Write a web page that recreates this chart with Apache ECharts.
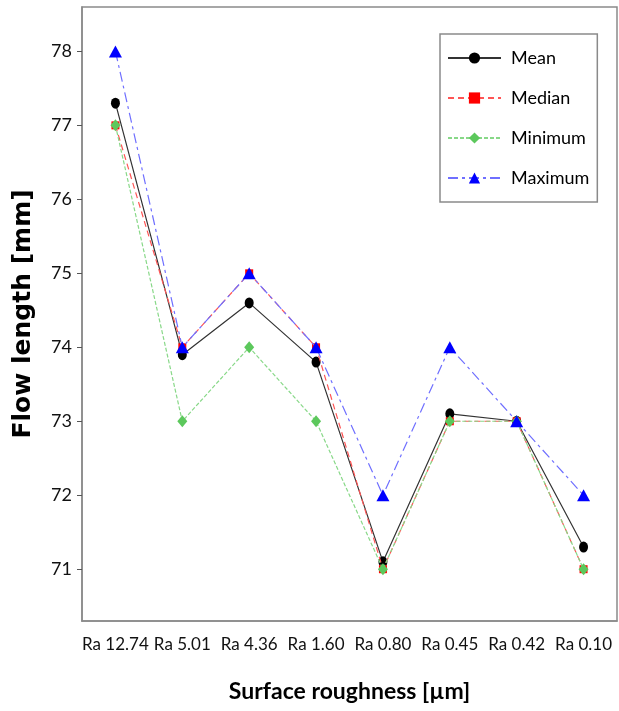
<!DOCTYPE html>
<html>
<head>
<meta charset="utf-8">
<script src="https://cdn.jsdelivr.net/npm/echarts@6/dist/echarts.min.js"></script>
<style>
html,body{margin:0;padding:0;background:#fff;}
#chart{width:619px;height:711px;}
</style>
</head>
<body>
<div id="chart"></div>
<script>
const categories = ['Ra 12.74','Ra 5.01','Ra 4.36','Ra 1.60','Ra 0.80','Ra 0.45','Ra 0.42','Ra 0.10'];
const meanValues = [77.3, 73.9, 74.6, 73.8, 71.1, 73.1, 73.0, 71.3];
const medianValues = [77.0, 74.0, 75.0, 74.0, 71.0, 73.0, 73.0, 71.0];
const minimumValues = [77.0, 73.0, 74.0, 73.0, 71.0, 73.0, 73.0, 71.0];
const maximumValues = [78.0, 74.0, 75.0, 74.0, 72.0, 74.0, 73.0, 72.0];
const yTicks = [71, 72, 73, 74, 75, 76, 77, 78];

const labelFont = 'Lato, "Open Sans", sans-serif';

const chart = echarts.init(document.getElementById('chart'), null, {renderer: 'canvas'});
chart.setOption({
  animation: false,
  backgroundColor: '#ffffff',
  grid: {
    left: 82, right: 2, top: 7, bottom: 90,
    show: true, borderColor: '#8a8a8a', borderWidth: 1.5, backgroundColor: 'transparent'
  },
  legend: {
    orient: 'vertical',
    left: 440, top: 34,
    padding: [15, 8, 15, 7],
    borderColor: '#8a8a8a', borderWidth: 1.5,
    itemWidth: 53, itemHeight: 14, itemGap: 22,
    textStyle: {fontFamily: labelFont, fontSize: 18, lineHeight: 14, color: '#000', padding: [0, 0, 0, 5]},
    data: ['Mean', 'Median', 'Minimum', 'Maximum']
  },
  xAxis: {
    type: 'category',
    data: categories,
    boundaryGap: true,
    name: 'Surface roughness [µm]',
    nameLocation: 'middle',
    nameGap: 59,
    nameTextStyle: {fontFamily: labelFont, fontWeight: 'bold', fontSize: 23, color: '#000'},
    axisLine: {lineStyle: {color: '#8a8a8a', width: 1.5}},
    axisTick: {alignWithLabel: true, length: 8, lineStyle: {color: '#555', width: 1}},
    axisLabel: {fontFamily: labelFont, fontSize: 17, color: '#111', margin: 15, interval: 0},
    splitLine: {show: false}
  },
  yAxis: {
    type: 'value',
    min: 70.3, max: 78.6,
    name: 'Flow length [mm]',
    nameLocation: 'middle',
    nameRotate: 90,
    nameGap: 46,
    nameTextStyle: {fontFamily: '"DejaVu Sans", sans-serif', fontWeight: 'bold', fontSize: 25, color: '#000'},
    axisLine: {show: true, lineStyle: {color: '#8a8a8a', width: 1.5}},
    axisTick: {show: true, length: 5, customValues: yTicks, lineStyle: {color: '#555', width: 1}},
    axisLabel: {fontFamily: labelFont, fontSize: 18, color: '#111', margin: 10, customValues: yTicks},
    splitLine: {show: false}
  },
  series: [
    {
      name: 'Mean', type: 'line', data: meanValues,
      symbol: 'circle', symbolSize: [9, 11],
      itemStyle: {color: '#000000'},
      lineStyle: {color: '#333333', width: 1.2, type: 'solid'},
      z: 2
    },
    {
      name: 'Median', type: 'line', data: medianValues,
      symbol: 'rect', symbolSize: 8,
      itemStyle: {color: '#ff0000'},
      lineStyle: {color: '#ff5555', width: 1.2, type: [6, 4]},
      z: 3
    },
    {
      name: 'Minimum', type: 'line', data: minimumValues,
      symbol: 'diamond', symbolSize: [10, 12],
      itemStyle: {color: '#5cc85c'},
      lineStyle: {color: '#88d888', width: 1.2, type: [4, 2]},
      z: 4
    },
    {
      name: 'Maximum', type: 'line', data: maximumValues,
      symbol: 'triangle', symbolSize: [13, 12],
      itemStyle: {color: '#0000ff'},
      lineStyle: {color: '#6f6fff', width: 1.2, type: [10, 4, 3, 4]},
      z: 5
    }
  ]
});
</script>
</body>
</html>
